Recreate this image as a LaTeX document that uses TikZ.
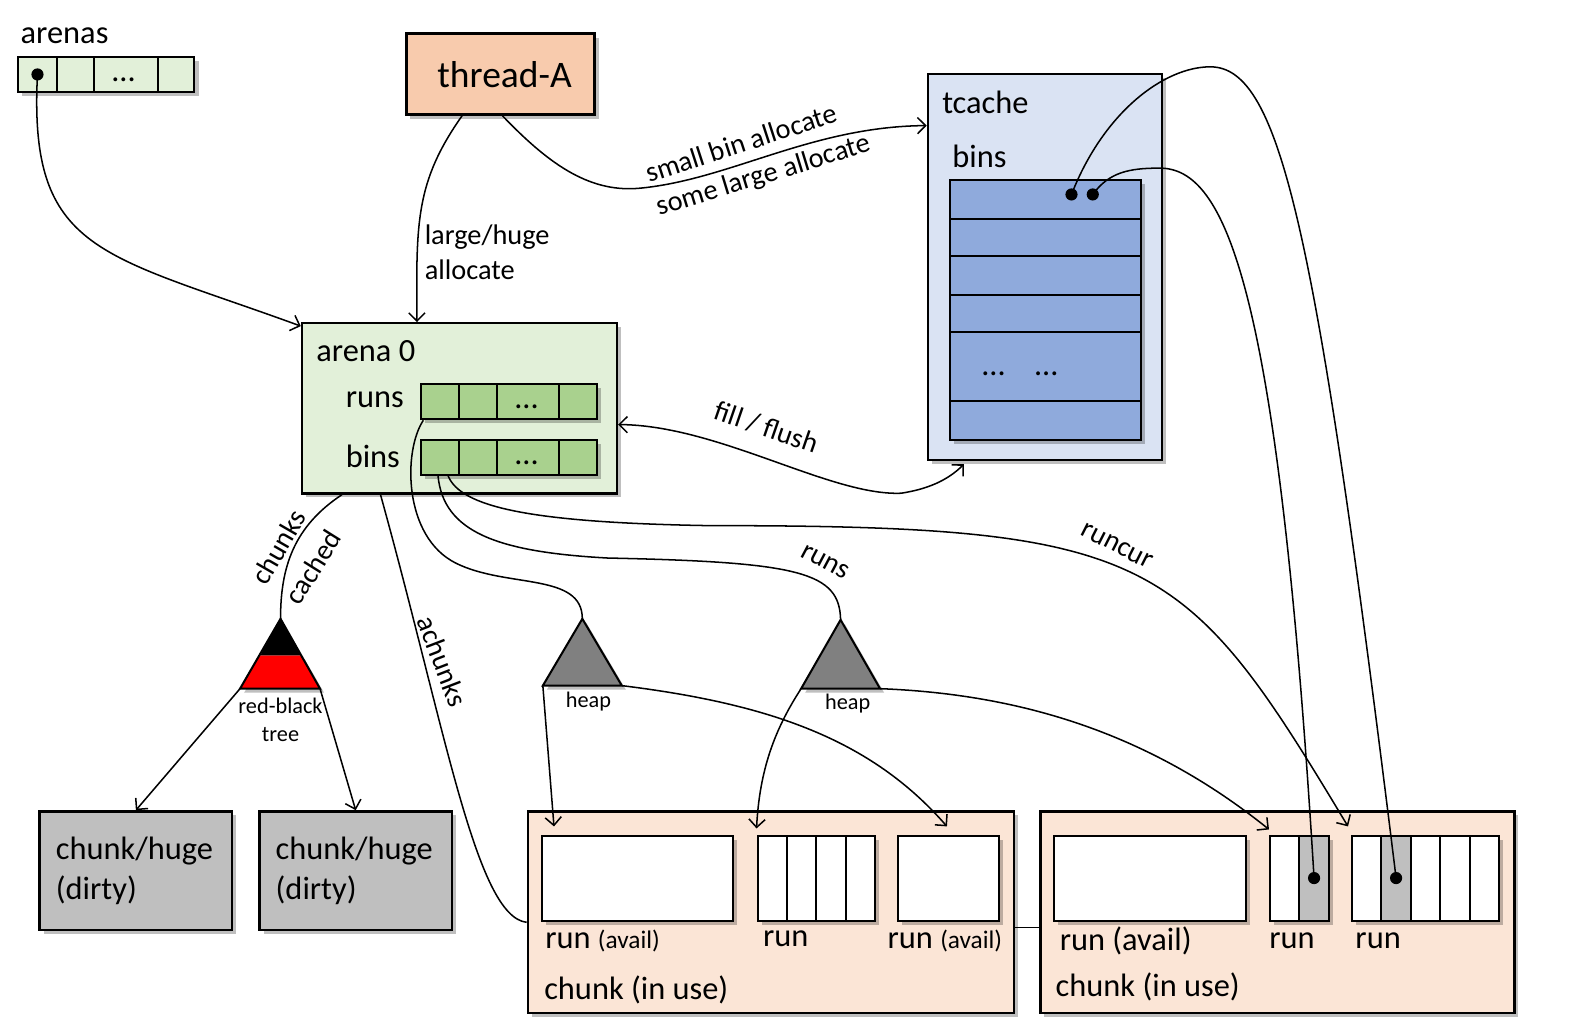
\documentclass[tikz,border=0pt]{standalone}
\usepackage{fontspec}
\setmainfont{Carlito}
\usetikzlibrary{arrows.meta,shadows}

\definecolor{arenagreen}{HTML}{E2F0D9}
\definecolor{cellgreen}{HTML}{A9D18E}
\definecolor{threadpeach}{HTML}{F8CBAD}
\definecolor{tcacheblue}{HTML}{DAE3F3}
\definecolor{binblue}{HTML}{8FAADC}
\definecolor{dirtygray}{HTML}{BFBFBF}
\definecolor{chunkpeach}{HTML}{FBE5D6}
\definecolor{heapgray}{HTML}{808080}

\tikzset{
    shade box/.style={drop shadow={shadow xshift=2pt, shadow yshift=-2pt, fill=black, opacity=0.25}},
    box/.style={draw, line width=1.2pt, inner sep=0pt, anchor=north west, shade box},
    cell/.style={draw, line width=1pt, inner sep=0pt, anchor=north west, minimum height=17.5pt, shade box},
    txt/.style={inner sep=0pt, anchor=west, font=\fontsize{16}{19}\selectfont},
    lbl/.style={inner sep=0pt, font=\fontsize{14}{17}\selectfont},
    smalltxt/.style={inner sep=0pt, font=\fontsize{11}{14}\selectfont},
    link/.style={line width=0.75pt},
    ptr/.style={line width=0.75pt, -{Straight Barb[length=4pt,width=8pt]}},
    dptr/.style={line width=0.75pt, {Straight Barb[length=4pt,width=8pt]}-{Straight Barb[length=4pt,width=8pt]}},
    ptrdot/.style={circle, fill=black, inner sep=0pt, minimum size=6pt},
}

\begin{document}
\begin{tikzpicture}[x=0.5pt, y=-0.5pt]
    \useasboundingbox (0,0) rectangle (1568,1016);

    % arenas array
    \node[txt] (arenaslbl) at (20,35) {arenas};
    \node[cell, fill=arenagreen, minimum width=19pt] (arr1) at (17,55) {};
    \node[cell, fill=arenagreen, minimum width=18.5pt] (arr2) at (55,55) {};
    \node[cell, fill=arenagreen, minimum width=31.5pt] (arr3) at (92,55) {};
    \node[cell, fill=arenagreen, minimum width=18pt] (arr4) at (155,55) {};
    \node[txt, anchor=center] (arrdots) at (122,79) {…};
    \node[ptrdot] (adot) at (arr1.center) {};

    % thread
    \node[box, fill=threadpeach, minimum width=93pt, minimum height=40pt, text depth=0pt,
          font=\fontsize{18.5}{22}\selectfont] (thread) at (400,32) {\hspace{4pt}thread-A};

    % arena 0
    \node[box, fill=arenagreen, minimum width=155.5pt, minimum height=84pt] (arena) at (297,318) {};
    \node[txt] (arenalbl) at (312,347) {arena 0};
    \node[txt] (runslbl) at (341,395) {runs};
    \node[txt] (binslbl) at (341,451) {bins};
    \node[cell, fill=cellgreen, minimum width=18.5pt] (runsA) at (415,378) {};
    \node[cell, fill=cellgreen, minimum width=19pt] (runsB) at (452,378) {};
    \node[cell, fill=cellgreen, minimum width=30.5pt] (runsC) at (490,378) {};
    \node[cell, fill=cellgreen, minimum width=18.5pt] (runsD) at (551,378) {};
    \node[txt, anchor=center] (runsdots) at (520,402) {…};
    \node[cell, fill=cellgreen, minimum width=18.5pt] (binsA) at (415,433) {};
    \node[cell, fill=cellgreen, minimum width=19pt] (binsB) at (452,433) {};
    \node[cell, fill=cellgreen, minimum width=30.5pt] (binsC) at (490,433) {};
    \node[cell, fill=cellgreen, minimum width=18.5pt] (binsD) at (551,433) {};
    \node[txt, anchor=center] (binsdots) at (520,457) {…};

    % tcache
    \node[box, fill=tcacheblue, minimum width=115.5pt, minimum height=190.5pt] (tcache) at (915,72) {};
    \node[txt] (tcachelbl) at (930,101) {tcache};
    \node[txt] (tbinslbl) at (940,154) {bins};
    \node[cell, fill=binblue, minimum width=94.5pt, minimum height=19pt] (tbin1) at (937,177) {};
    \node[cell, fill=binblue, minimum width=94.5pt, minimum height=18.5pt] (tbin2) at (937,215) {};
    \node[cell, fill=binblue, minimum width=94.5pt, minimum height=19pt] (tbin3) at (937,252) {};
    \node[cell, fill=binblue, minimum width=94.5pt, minimum height=18.5pt] (tbin4) at (937,290) {};
    \node[cell, fill=binblue, minimum width=94.5pt, minimum height=34pt] (tbin5) at (937,327) {};
    \node[cell, fill=binblue, minimum width=94.5pt, minimum height=19pt] (tbin6) at (937,395) {};
    \node[txt, anchor=center] (tbindotsA) at (981,369) {…};
    \node[txt, anchor=center] (tbindotsB) at (1033,369) {…};
    \node[ptrdot] (tdotA) at (1058,192) {};
    \node[ptrdot] (tdotB) at (1079,192) {};

    % red-black tree and heaps
    \coordinate (rbtop) at (277,611);
    \coordinate (rbleft) at (237,680);
    \coordinate (rbright) at (316,680);
    \fill[red, shade box] (rbleft) -- (rbright) -- (297,647) -- (257,647) -- cycle;
    \fill[black] (257,647) -- (297,647) -- (rbtop) -- cycle;
    \draw[line width=1pt] (rbleft) -- (rbright) -- (rbtop) -- cycle;
    \node[smalltxt, align=center] (rblbl) at (277,711) {red-black\\tree};

    \coordinate (hpAtop) at (575,611);
    \coordinate (hpAleft) at (536,677);
    \coordinate (hpAright) at (614,677);
    \filldraw[fill=heapgray, line width=1pt, shade box] (hpAleft) -- (hpAright) -- (hpAtop) -- cycle;
    \node[smalltxt] (heapAlbl) at (581,693) {heap};

    \coordinate (hpBtop) at (830,612);
    \coordinate (hpBleft) at (791,680);
    \coordinate (hpBright) at (869,680);
    \filldraw[fill=heapgray, line width=1pt, shade box] (hpBleft) -- (hpBright) -- (hpBtop) -- cycle;
    \node[smalltxt] (heapBlbl) at (837,695) {heap};

    % dirty chunks
    \node[box, fill=dirtygray, minimum width=95pt, minimum height=58.5pt, text width=79pt,
          inner xsep=8pt, align=left, font=\fontsize{16}{20}\selectfont] (dirtyA) at (38,800) {chunk/huge\\(dirty)};
    \node[box, fill=dirtygray, minimum width=95pt, minimum height=58.5pt, text width=79pt,
          inner xsep=8pt, align=left, font=\fontsize{16}{20}\selectfont] (dirtyB) at (255,800) {chunk/huge\\(dirty)};

    % chunk (in use) A
    \node[box, fill=chunkpeach, minimum width=240pt, minimum height=99.5pt] (chunkA) at (520,800) {};
    \node[box, fill=white, line width=1pt, minimum width=94.5pt, minimum height=42pt] (availA) at (534,824) {};
    \node[cell, fill=white, minimum width=14.5pt, minimum height=42pt] (runA1) at (747,824) {};
    \node[cell, fill=white, minimum width=14.5pt, minimum height=42pt] (runA2) at (776,824) {};
    \node[cell, fill=white, minimum width=14.5pt, minimum height=42pt] (runA3) at (805,824) {};
    \node[cell, fill=white, minimum width=14.5pt, minimum height=42pt] (runA4) at (834,824) {};
    \node[box, fill=white, line width=1pt, minimum width=49.5pt, minimum height=42pt] (availB) at (886,824) {};
    \node[txt] (availAlbl) at (538,929) {run {\fontsize{12.5}{15}\selectfont (avail)}};
    \node[txt] (runAlbl) at (753,927) {run};
    \node[txt] (availBlbl) at (876,929) {run {\fontsize{12.5}{15}\selectfont (avail)}};
    \node[txt] (chunkAlbl) at (537,977) {chunk (in use)};

    % chunk (in use) B
    \node[box, fill=chunkpeach, minimum width=234pt, minimum height=99.5pt] (chunkB) at (1026,800) {};
    \node[box, fill=white, line width=1pt, minimum width=94.5pt, minimum height=42pt] (availC) at (1040,824) {};
    \node[cell, fill=white, minimum width=14.5pt, minimum height=42pt] (runB1) at (1253,824) {};
    \node[cell, fill=dirtygray, minimum width=14.5pt, minimum height=42pt] (runB2) at (1282,824) {};
    \node[cell, fill=white, minimum width=14.5pt, minimum height=42pt] (runC1) at (1334,824) {};
    \node[cell, fill=dirtygray, minimum width=14.5pt, minimum height=42pt] (runC2) at (1363,824) {};
    \node[cell, fill=white, minimum width=14.5pt, minimum height=42pt] (runC3) at (1392,824) {};
    \node[cell, fill=white, minimum width=14.5pt, minimum height=42pt] (runC4) at (1421,824) {};
    \node[cell, fill=white, minimum width=14.5pt, minimum height=42pt] (runC5) at (1450,824) {};
    \node[ptrdot] (rdotB) at (runB2.center) {};
    \node[ptrdot] (rdotC) at (runC2.center) {};
    \node[txt] (availClbl) at (1046,929) {run (avail)};
    \node[txt] (runBlbl) at (1253,929) {run};
    \node[txt] (runClbl) at (1338,929) {run};
    \node[txt] (chunkBlbl) at (1042,974) {chunk (in use)};

    % connectors
    \draw[ptr] (adot.center) .. controls (28,250) and (100,250) .. ([yshift=-2pt]arena.north west);
    \draw[ptr] ([xshift=-19pt]thread.south) .. controls (410,180) and (411,220) .. ([xshift=-21pt]arena.north);
    \draw[ptr] ([xshift=1pt]thread.south) .. controls (540,160) and (580,190) .. (630,186)
        .. controls (720,178) and (800,125) .. ([yshift=-26pt]tcache.north west);
    \draw[dptr] ([yshift=-8pt]arena.east) .. controls (710,420) and (820,490) .. (890,487)
        .. controls (915,483) and (935,475) .. ([xshift=-40pt,yshift=-1.5pt]tcache.south);
    \draw[link] ([xshift=-58pt]arena.south) .. controls (290,520) and (277,560) .. (rbtop);
    \draw[ptr] (rbleft) -- (dirtyA.north);
    \draw[ptr] (rbright) -- (dirtyB.north);
    \draw[link] ([xshift=-39pt]arena.south) .. controls (440,720) and (470,905) .. ([yshift=-5pt]chunkA.west);
    \draw[link] ([yshift=-7.5pt]chunkA.east) -- ([yshift=-7.5pt]chunkB.west);
    \draw[link] ([xshift=1.5pt]runsA.south west) .. controls (398,445) and (398,530) .. (450,556)
        .. controls (500,581) and (575,565) .. (hpAtop);
    \draw[link] ([xshift=-1pt]binsA.south) .. controls (438,525) and (490,545) .. (600,551)
        .. controls (790,555) and (829,565) .. (hpBtop);
    \draw[ptr] ([xshift=4pt]binsA.south) .. controls (455,500) and (520,516) .. (700,519)
        .. controls (1140,519) and (1170,548) .. ([xshift=-1.5pt,yshift=4pt]runC1.north west);
    \draw[ptr] (hpAleft) -- ([xshift=6.5pt,yshift=4pt]availA.north west);
    \draw[ptr] (hpAright) .. controls (760,695) and (860,730) .. ([xshift=24.5pt,yshift=4pt]availB.north west);
    \draw[ptr] (hpBleft) .. controls (765,720) and (750,760) .. ([yshift=3pt]runA1.north west);
    \draw[ptr] (hpBright) .. controls (1000,685) and (1130,720) .. ([yshift=2.5pt]runB1.north west);
    \draw[link] (tdotA.center) .. controls (1090,110) and (1150,66) .. (1195,66)
        .. controls (1265,66) and (1300,230) .. (rdotC.center);
    \draw[link] (tdotB.center) .. controls (1095,170) and (1115,166) .. (1145,166)
        .. controls (1210,166) and (1262,280) .. (rdotB.center);

    % connector labels
    \node[lbl, anchor=west, align=left] (allocatelbl) at (419,249) {large/huge\\allocate};
    \node[lbl, rotate=18] (smalllbl) at (732,141) {small bin allocate};
    \node[lbl, rotate=17] (somelbl) at (754,174) {some large allocate};
    \node[lbl, rotate=-19] (filllbl) at (757,422) {fill / flush};
    \node[lbl, rotate=60] (chunkslbl) at (275,540) {chunks};
    \node[lbl, rotate=58] (cachedlbl) at (309,560) {cached};
    \node[lbl, rotate=-69] (achunkslbl) at (437,653) {achunks};
    \node[lbl, rotate=-28] (runscurvelbl) at (815,555) {runs};
    \node[lbl, rotate=-27] (runcurlbl) at (1103,539) {runcur};
\end{tikzpicture}
\end{document}
